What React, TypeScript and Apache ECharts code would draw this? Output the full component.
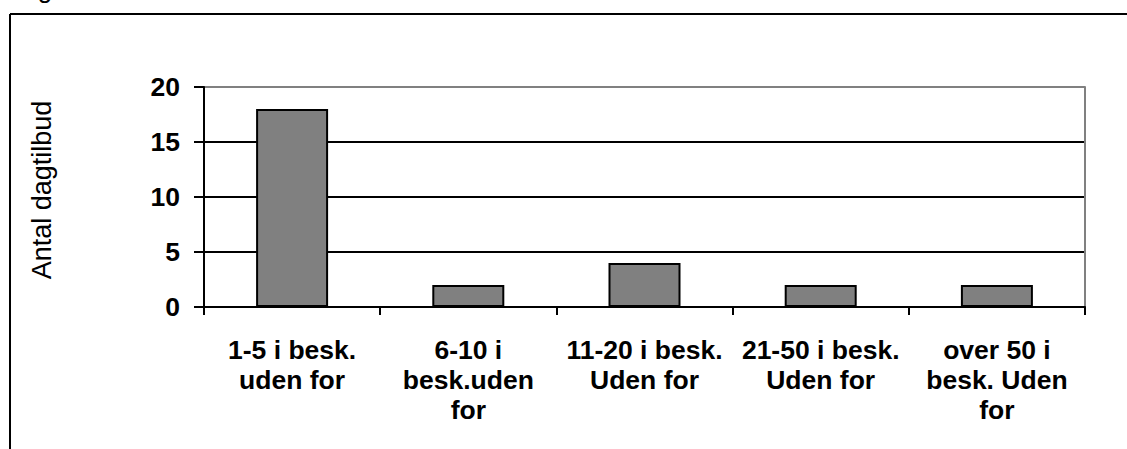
import React, { useEffect, useRef } from "react";
import * as echarts from "echarts";

const categories = [
  "1-5 i besk.\nuden for",
  "6-10 i\nbesk.uden\nfor",
  "11-20 i besk.\nUden for",
  "21-50 i besk.\nUden for",
  "over 50 i\nbesk. Uden\nfor",
];
const values = [18, 2, 4, 2, 2];
const yTicks = { min: 0, max: 20, interval: 5 };
const yAxisTitle = "Antal dagtilbud";
const topTitle = "Figur";

export default function App() {
  const ref = useRef<HTMLDivElement>(null);
  useEffect(() => {
    document.body.style.margin = "0";
    const chart = echarts.init(ref.current!, null, { renderer: "svg" });
    chart.setOption({
      animation: false,
      backgroundColor: "#ffffff",
      textStyle: { fontFamily: "Arial, Liberation Sans, sans-serif" },
      grid: { left: 204, right: 42, top: 87, bottom: 142 },
      graphic: [
        {
          type: "line",
          shape: { x1: 10, y1: 14, x2: 1127, y2: 14 },
          style: { stroke: "#000", lineWidth: 2 },
        },
        {
          type: "line",
          shape: { x1: 10, y1: 14, x2: 10, y2: 449 },
          style: { stroke: "#000", lineWidth: 2 },
        },
        {
          type: "text",
          x: 16,
          y: 2,
          style: {
            text: topTitle,
            font: "26px Arial, Liberation Sans, sans-serif",
            fill: "#000",
            verticalAlign: "bottom",
          } as any,
        },
      ],
      xAxis: {
        type: "category",
        data: categories,
        boundaryGap: true,
        axisLine: { show: true, lineStyle: { color: "#000", width: 2 } },
        axisTick: { show: true, length: 8, alignWithLabel: false, lineStyle: { color: "#000", width: 2 } },
        axisLabel: {
          interval: 0,
          margin: 28,
          color: "#000",
          fontSize: 26.5,
          fontWeight: "bold",
          lineHeight: 30,
          align: "center",
          fontFamily: "Arial, Liberation Sans, sans-serif",
        },
        splitLine: { show: false },
      },
      yAxis: [
        {
          type: "value",
          min: yTicks.min,
          max: yTicks.max,
          interval: yTicks.interval,
          name: yAxisTitle,
          nameLocation: "middle",
          nameGap: 149,
          nameRotate: 90,
          nameTextStyle: {
            color: "#000",
            fontSize: 27,
            fontFamily: "Arial, Liberation Sans, sans-serif",
            padding: [0, 0, 0, 14],
          },
          axisLine: { show: true, lineStyle: { color: "#000", width: 2 } },
          axisTick: { show: true, length: 10, lineStyle: { color: "#000", width: 2 } },
          axisLabel: {
            margin: 24,
            color: "#000",
            fontSize: 26.5,
            fontWeight: "bold",
            fontFamily: "Arial, Liberation Sans, sans-serif",
          },
          splitLine: {
            show: true,
            lineStyle: { color: ["#000", "#000", "#000", "#000", "#808080"], width: 2 },
          },
        },
        {
          type: "value",
          position: "right",
          min: yTicks.min,
          max: yTicks.max,
          interval: yTicks.interval,
          axisLine: { show: true, lineStyle: { color: "#808080", width: 2 } },
          axisTick: { show: false },
          axisLabel: { show: false },
          splitLine: { show: false },
        },
      ],
      series: [
        {
          type: "bar",
          data: values,
          barWidth: 72,
          yAxisIndex: 0,
          itemStyle: { color: "#808080", borderColor: "#000", borderWidth: 2 },
          z: 3,
        },
      ],
    });
    return () => chart.dispose();
  }, []);
  return (
    <div
      ref={ref}
      style={{ position: "absolute", left: 0, top: 0, width: 1127, height: 449 }}
    />
  );
}
